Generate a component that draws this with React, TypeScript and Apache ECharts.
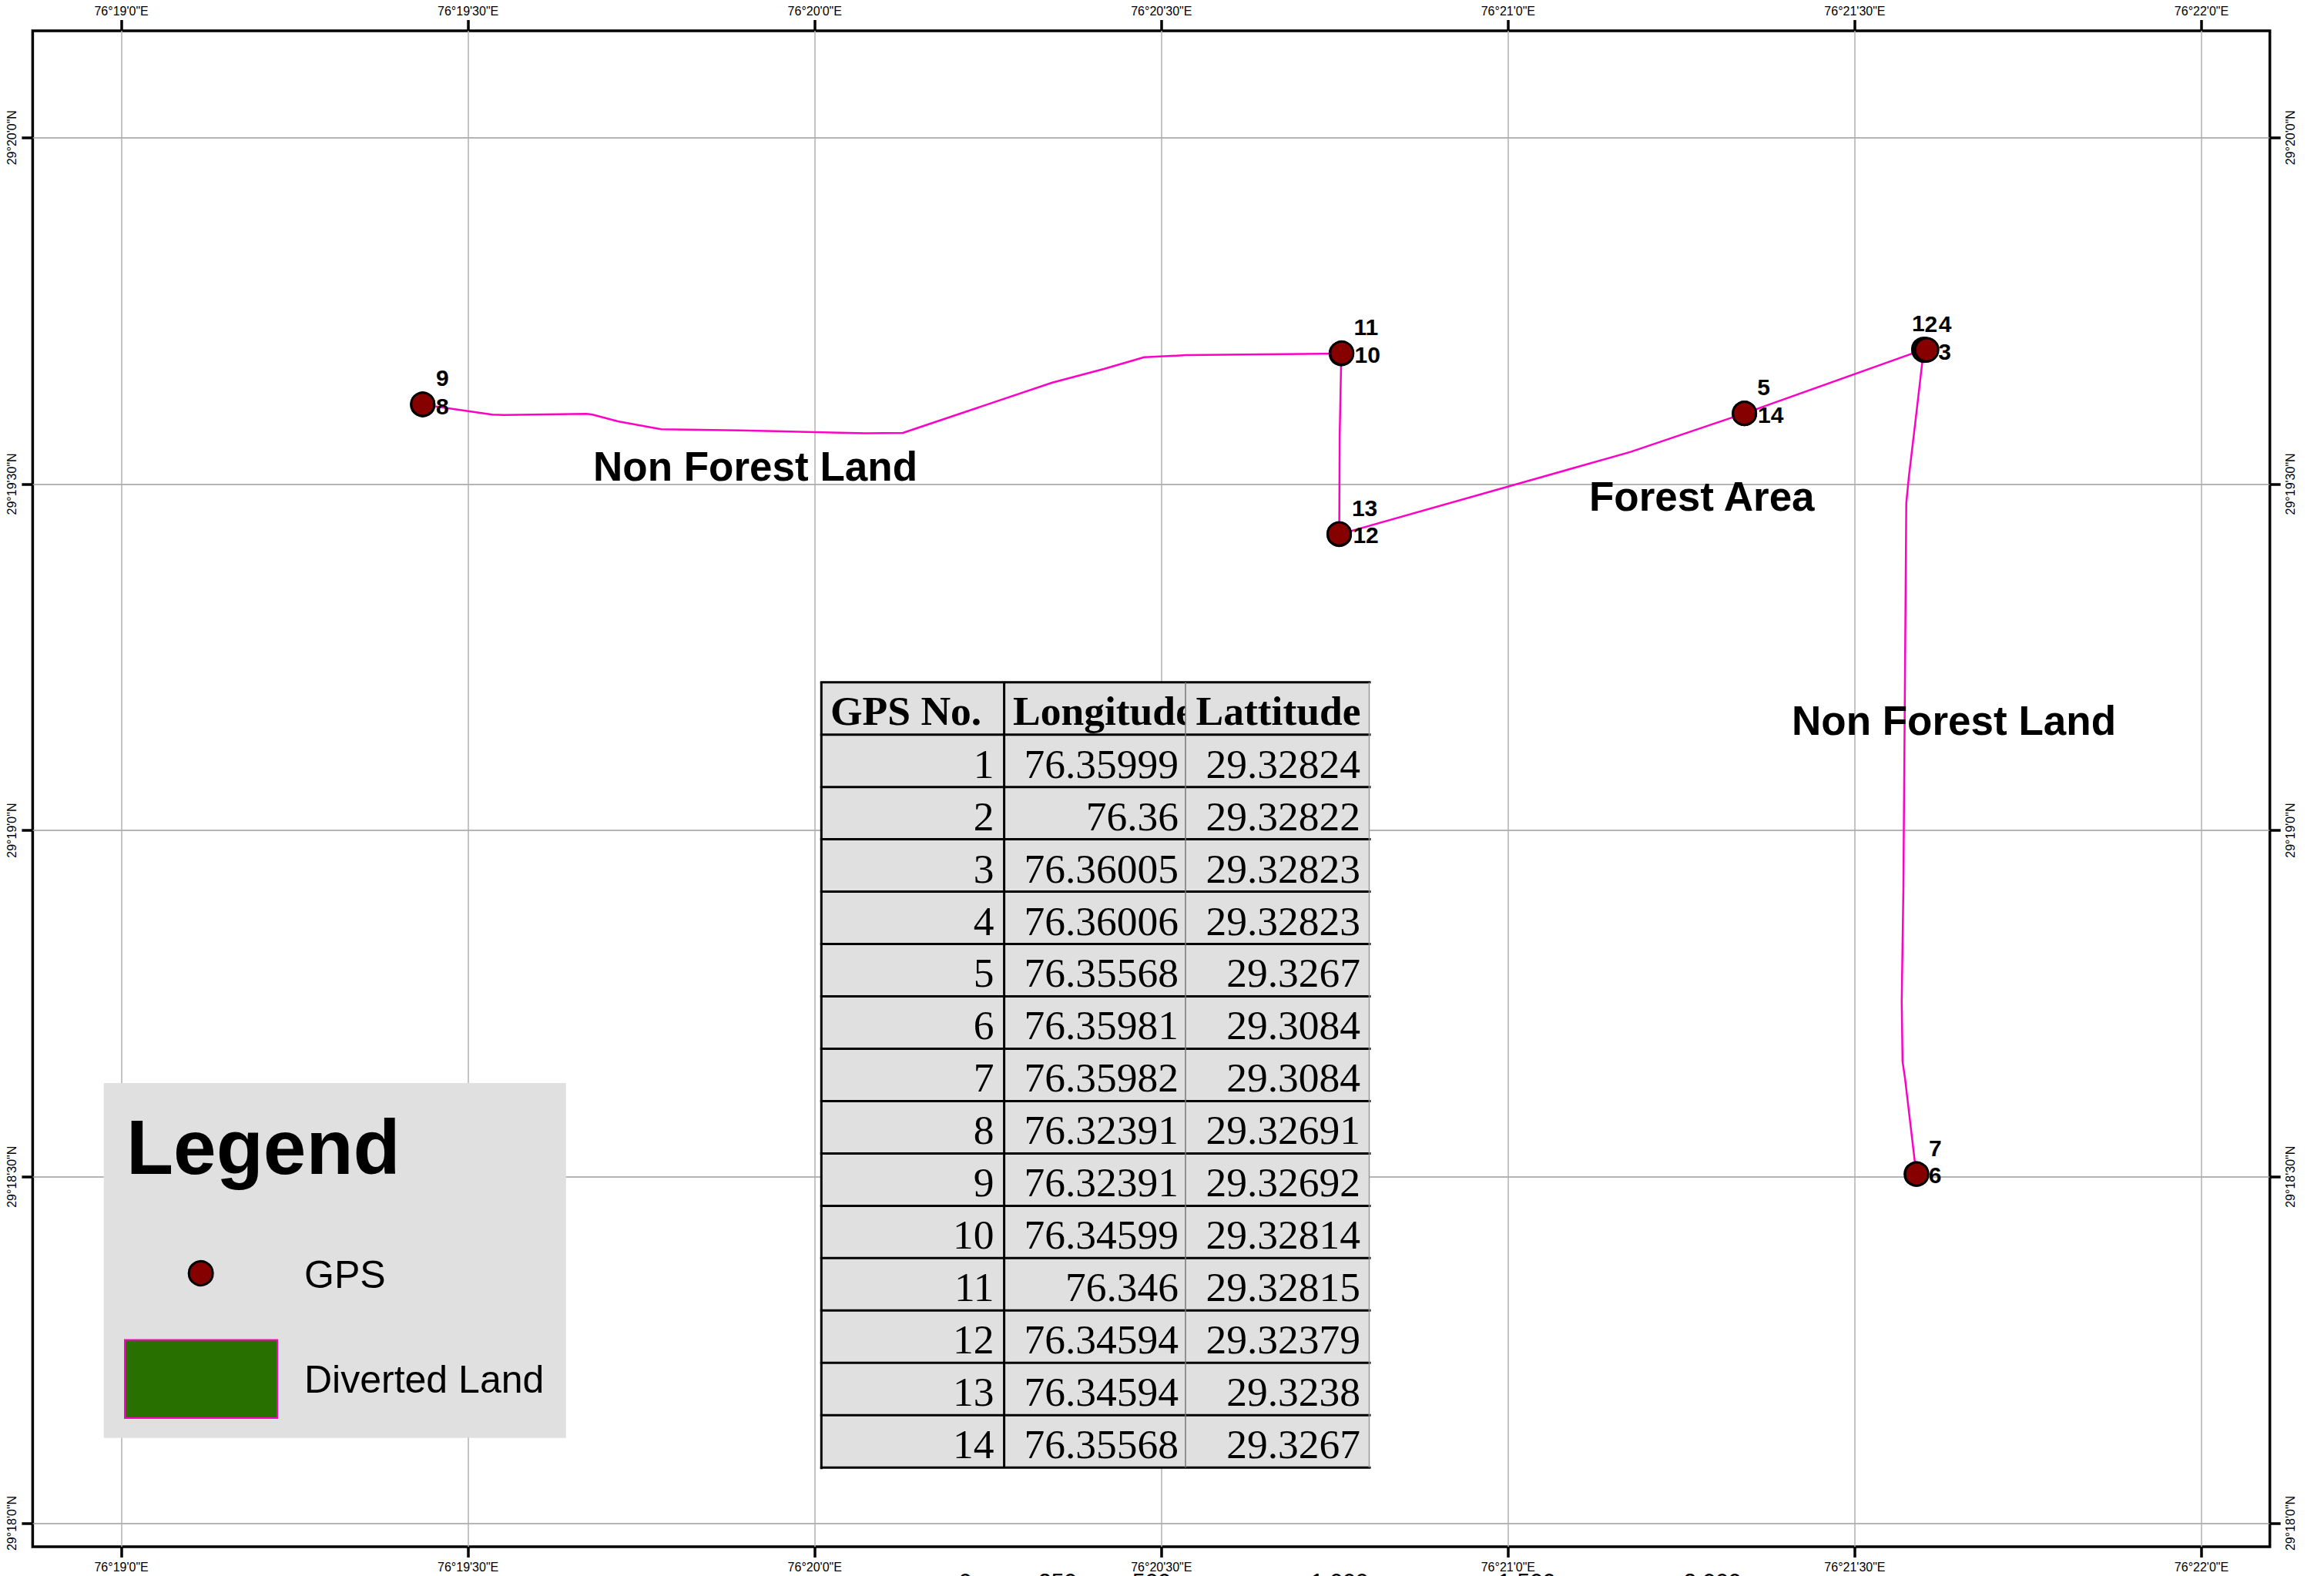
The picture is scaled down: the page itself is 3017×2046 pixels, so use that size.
import React, { useEffect, useRef } from "react";
import * as echarts from "echarts";

// ---- data ----
const gpsNumbers = [1, 2, 3, 4, 5, 6, 7, 8, 9, 10, 11, 12, 13, 14];
const longitudes = [76.35999, 76.36, 76.36005, 76.36006, 76.35568, 76.35981, 76.35982, 76.32391, 76.32391, 76.34599, 76.346, 76.34594, 76.34594, 76.35568];
const latitudes = [29.32824, 29.32822, 29.32823, 29.32823, 29.3267, 29.3084, 29.3084, 29.32691, 29.32692, 29.32814, 29.32815, 29.32379, 29.3238, 29.3267];
const tableHeaders = ["GPS No.", "Longitude", "Lattitude"];

// Boundary of the diverted land as [lon, lat]
const boundary: [number, number][] = [
  [76.32391, 29.32691], [76.32558, 29.32667], [76.32586, 29.32666], [76.32784, 29.32669],
  [76.32799, 29.32667], [76.3286, 29.32651], [76.32964, 29.32632], [76.33152, 29.32629],
  [76.33332, 29.32625], [76.33455, 29.32622], [76.33545, 29.32623], [76.33904, 29.32744],
  [76.34028, 29.32777], [76.34125, 29.32805], [76.34225, 29.3281], [76.34599, 29.32814],
  [76.34595, 29.32614], [76.34594, 29.32379], [76.35293, 29.32577], [76.35568, 29.3267],
  [76.35999, 29.32824], [76.35979, 29.32651], [76.35963, 29.32516], [76.35957, 29.32454],
  [76.3595, 29.31524], [76.35946, 29.31255], [76.35948, 29.31111], [76.35954, 29.3107],
  [76.35981, 29.3084],
];

const lonTicks = [0, 1, 2, 3, 4, 5, 6].map((k) => 76 + 19 / 60 + k / 120);
const lonTickLabels = ["76°19'0\"E", "76°19'30\"E", "76°20'0\"E", "76°20'30\"E", "76°21'0\"E", "76°21'30\"E", "76°22'0\"E"];
const latTicks = [0, 1, 2, 3, 4].map((k) => 29 + 18 / 60 + k / 120);
const latTickLabels = ["29°18'0\"N", "29°18'30\"N", "29°19'0\"N", "29°19'30\"N", "29°20'0\"N"];

const scaleBarLabels = ["0", "250", "500", "1,000", "1,500", "2,000"];
const legendTitle = "Legend";
const legendItems = ["GPS", "Diverted Land"];
const areaNames = ["Non Forest Land", "Forest Area", "Non Forest Land"];

// ---- layout and style, separate from the data ----
const W = 3017;
const H = 2046;
const GRID = { left: 42.4, top: 40, right: 2946.7, bottom: 2008 };
const X_RANGE = [76.314534, 76.368309];
const Y_RANGE = [29.299434, 29.335904];
const SANS = "Liberation Sans";
const SERIF = "Liberation Serif";
const PANEL = "#e0e0e0";
const MAGENTA = "#ff00c5";

const labelOffsets: [number, number][] = [
  [-7, -34], [9, -34], [24, 2], [24, -34], [25, -34], [24.5, 1], [24, -34],
  [25.5, 2], [25.5, -34], [34, 2], [31.5, -34], [34.5, 1], [33, -34], [34, 2],
];
const areaPlacement = [
  { x: 770, base: 624 },
  { x: 2063, base: 663 },
  { x: 2326, base: 954 },
];
const scaleBarCentres = [1253, 1373, 1495, 1739, 1982, 2223];

const T_TOP = 885.7;
const T_ROW = 67.97;
const T_COLS = [1066.3, 1303.6, 1539, 1777.5];
const T_LINE_END = 1779.5;
const T_RIGHTS = [1290.5, 1530, 1766];
const T_HEAD_LEFTS = [1078, 1315, 1552.5];

function closest(list: number[], v: number) {
  let best = 0;
  list.forEach((t, i) => {
    if (Math.abs(t - v) < Math.abs(list[best] - v)) best = i;
  });
  return best;
}

function sansText(text: string, x: number, base: number, size: number, weight = "normal", align = "left") {
  return {
    type: "text",
    z: 6,
    style: {
      text, x, y: base - 0.3465 * size, align, verticalAlign: "middle",
      fontFamily: SANS, fontSize: size, fontWeight: weight, fill: "#000",
    },
  };
}

function serifText(text: string, x: number, base: number, size: number, weight = "normal", align = "right") {
  return {
    type: "text",
    z: 3,
    style: {
      text, x, y: base - 0.3375 * size, align, verticalAlign: "middle",
      fontFamily: SERIF, fontSize: size, fontWeight: weight, fill: "#000",
    },
  };
}

function hLine(x1: number, x2: number, y: number, stroke: string, lineWidth: number) {
  return { type: "line", z: 4, shape: { x1, y1: y, x2, y2: y }, style: { stroke, lineWidth } };
}
function vLine(x: number, y1: number, y2: number, stroke: string, lineWidth: number) {
  return { type: "line", z: 4, shape: { x1: x, y1, x2: x, y2 }, style: { stroke, lineWidth } };
}

function buildTable() {
  const out: any[] = [];
  const bottom = T_TOP + T_ROW * 15;
  const rows = gpsNumbers.map((n, i) => [String(n), String(longitudes[i]), String(latitudes[i])]);
  // Column by column, so that the next column's panel clips the overflowing "Longitude" header
  for (let c = 0; c < 3; c++) {
    out.push({
      type: "rect",
      z: 3,
      shape: { x: T_COLS[c], y: T_TOP, width: T_COLS[c + 1] - T_COLS[c], height: bottom - T_TOP },
      style: { fill: PANEL },
    });
    out.push(serifText(tableHeaders[c], T_HEAD_LEFTS[c], T_TOP + 55.5, 53.5, "bold", "left"));
    rows.forEach((r, i) => {
      out.push(serifText(r[c], T_RIGHTS[c], T_TOP + T_ROW * (i + 1) + 56, 53.5));
    });
  }
  for (let i = 0; i <= 15; i++) out.push(hLine(T_COLS[0] - 1.5, T_LINE_END, T_TOP + T_ROW * i, "#000", 3));
  out.push(vLine(T_COLS[0], T_TOP, bottom + 2, "#000", 3));
  out.push(vLine(T_COLS[1], T_TOP, bottom, "#000", 3));
  out.push(vLine(T_COLS[2], T_TOP, bottom, "#777", 1.5));
  out.push(vLine(T_COLS[3], T_TOP, bottom, "#999", 1.5));
  return out;
}

function buildLegend() {
  return [
    { type: "rect", z: 3, shape: { x: 134.8, y: 1406, width: 600, height: 460.7 }, style: { fill: PANEL } },
    sansText(legendTitle, 164, 1524, 100, "bold"),
    { type: "circle", z: 5, shape: { cx: 260.7, cy: 1653, r: 15.5 }, style: { fill: "#870000", stroke: "#000", lineWidth: 3 } },
    sansText(legendItems[0], 395, 1672.7, 50),
    {
      type: "rect", z: 5,
      shape: { x: 162, y: 1739.5, width: 198, height: 101.5 },
      style: { fill: "#287000", stroke: MAGENTA, lineWidth: 2 },
    },
    sansText(legendItems[1], 395, 1808, 50),
  ];
}

function buildAreas() {
  return areaNames.map((t, i) => sansText(t, areaPlacement[i].x, areaPlacement[i].base, 53, "bold"));
}

function buildScaleBar() {
  return scaleBarLabels.map((t, i) => sansText(t, scaleBarCentres[i], 2062.5, 30, "normal", "center"));
}

function xAxisOption(position: "top" | "bottom", grid: boolean) {
  return {
    type: "value",
    position,
    min: X_RANGE[0],
    max: X_RANGE[1],
    axisLine: { show: false },
    axisTick: { show: true, customValues: lonTicks, length: 14, lineStyle: { color: "#000", width: 3.5 } },
    axisLabel: {
      show: true,
      customValues: lonTicks,
      margin: 18,
      hideOverlap: false,
      fontFamily: SANS,
      fontSize: 16,
      color: "#000",
      formatter: (v: number) => lonTickLabels[closest(lonTicks, v)],
    },
    splitLine: { show: grid, lineStyle: { color: "#b0b0b0", width: 1.5 } },
  };
}

function yAxisOption(position: "left" | "right", grid: boolean) {
  return {
    type: "value",
    position,
    min: Y_RANGE[0],
    max: Y_RANGE[1],
    axisLine: { show: false },
    axisTick: { show: true, customValues: latTicks, length: 14, lineStyle: { color: "#000", width: 3.5 } },
    axisLabel: {
      show: true,
      customValues: latTicks,
      rotate: 90,
      margin: 19,
      hideOverlap: false,
      fontFamily: SANS,
      fontSize: 16,
      color: "#000",
      formatter: (v: number) => latTickLabels[closest(latTicks, v)],
    },
    splitLine: { show: grid, lineStyle: { color: "#9c9c9c", width: 1.5 } },
  };
}

export default function App() {
  const ref = useRef<HTMLDivElement>(null);
  useEffect(() => {
    document.body.style.margin = "0";
    const chart = echarts.init(ref.current!, undefined, { renderer: "svg", width: W, height: H });
    chart.setOption({
      animation: false,
      backgroundColor: "#fff",
      grid: {
        show: true,
        left: GRID.left,
        top: GRID.top,
        width: GRID.right - GRID.left,
        height: GRID.bottom - GRID.top,
        borderColor: "#000",
        borderWidth: 3.5,
        backgroundColor: "#fff",
        containLabel: false,
      },
      xAxis: [xAxisOption("bottom", true), xAxisOption("top", false)],
      yAxis: [yAxisOption("left", true), yAxisOption("right", false)],
      series: [
        {
          name: "Diverted Land",
          type: "line",
          data: boundary,
          showSymbol: false,
          silent: true,
          z: 3,
          lineStyle: { color: MAGENTA, width: 2.5 },
        },
        {
          name: "GPS",
          type: "scatter",
          z: 4,
          symbol: "circle",
          symbolSize: 30,
          itemStyle: { color: "#870000", borderColor: "#000", borderWidth: 3, opacity: 1 },
          data: gpsNumbers.map((n, i) => ({
            value: [longitudes[i], latitudes[i]],
            label: {
              show: true,
              position: "inside",
              formatter: String(n),
              fontFamily: SANS,
              fontSize: 30,
              fontWeight: "bold",
              color: "#000",
            },
          })),
          labelLayout: (p: any) => ({
            dx: labelOffsets[p.dataIndex][0],
            dy: labelOffsets[p.dataIndex][1],
            hideOverlap: false,
          }),
        },
      ],
      graphic: {
        elements: [...buildTable(), ...buildLegend(), ...buildAreas(), ...buildScaleBar()],
      },
    });
    return () => chart.dispose();
  }, []);
  return <div ref={ref} style={{ position: "absolute", left: 0, top: 0, width: W, height: H, overflow: "hidden" }} />;
}
